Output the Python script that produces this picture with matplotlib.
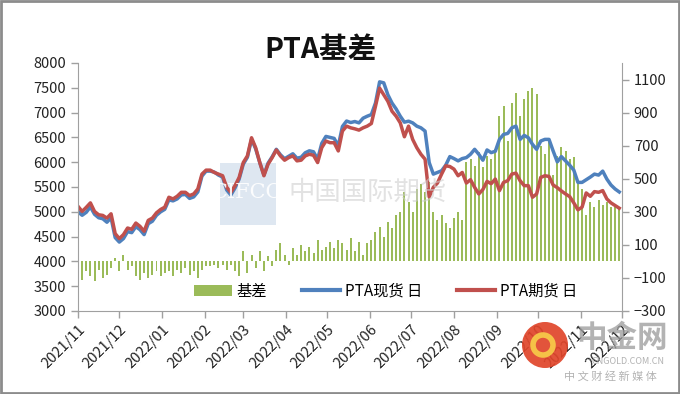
import matplotlib
matplotlib.use("Agg")
import matplotlib.pyplot as plt
import matplotlib.dates as mdates
from matplotlib.patches import Rectangle, Ellipse
import pandas as pd
import numpy as np

plt.rcParams['font.family'] = ['Noto Sans CJK SC', 'DejaVu Sans']

title = "PTA基差"
series_names = ["基差", "PTA现货 日", "PTA期货 日"]

# sample dates (every 3 calendar days)
dates = pd.date_range("2021-11-01", periods=132, freq="3D")

spot = [
    5000, 4930, 4990, 5100, 4950, 4880, 4860, 4790, 4880, 4480,
    4390, 4460, 4600, 4580, 4700, 4640, 4540, 4760, 4810, 4930,
    5000, 5050, 5240, 5220, 5260, 5340, 5350, 5270, 5300, 5400,
    5720, 5820, 5820, 5800, 5740, 5700, 5440, 5340, 5480, 5660,
    5960, 6100, 6460, 6270, 5990, 5740, 5980, 6110, 6260, 6150,
    6070, 6120, 6170, 6080, 6100, 6190, 6230, 6210, 6060, 6380,
    6520, 6500, 6480, 6330, 6720, 6830, 6800, 6820, 6793, 6887,
    6927, 6960, 7193, 7620, 7600, 7360, 7193, 7073, 6927, 6807,
    6827, 6793, 6727, 6693, 6627, 5993, 5760, 5793, 5827, 5940,
    6113, 6073, 6027, 6073, 6093, 6160, 6260, 6160, 6040, 6247,
    6193, 6220, 6460, 6560, 6580, 6693, 6727, 6460, 6540, 6493,
    6360, 6260, 6427, 6460, 6460, 6227, 6007, 6113, 6027, 5940,
    5840, 5593, 5593, 5647, 5700, 5760, 5740, 5820, 5660, 5540,
    5460, 5400,
]

futures = [
    5110, 5007, 5090, 5180, 5007, 4940, 4927, 4873, 4960, 4560,
    4460, 4540, 4673, 4647, 4773, 4707, 4607, 4827, 4873, 4980,
    5047, 5093, 5293, 5260, 5313, 5393, 5393, 5327, 5360, 5460,
    5760, 5840, 5840, 5793, 5760, 5727, 5493, 5393, 5527, 5693,
    5993, 6127, 6493, 6293, 5993, 5727, 5960, 6093, 6247, 6127,
    6040, 6093, 6127, 6027, 6040, 6127, 6160, 6140, 5993, 6293,
    6427, 6393, 6393, 6227, 6627, 6727, 6693, 6673, 6647, 6693,
    6727, 6780, 7127, 7493, 7360, 7227, 7027, 6927, 6793, 6513,
    6727, 6460, 6293, 6160, 6060, 5300, 5493, 5580, 5760, 5927,
    5913, 5860, 5727, 5793, 5580, 5647, 5493, 5360, 5450, 5613,
    5567, 5660, 5427, 5593, 5627, 5760, 5780, 5627, 5527, 5527,
    5293, 5360, 5693, 5727, 5713, 5540, 5487, 5420, 5360, 5307,
    5180, 5040, 5093, 5380, 5313, 5407, 5393, 5427, 5260, 5180,
    5127, 5073,
]

basis = [
    -70, -110, -60, -90, -120, -50, -100, -80, -40, 20,
    -60, 40, -50, -30, -90, -110, -70, -100, -80, -60,
    -90, -70, -60, -90, -50, -70, -40, -80, -60, -100,
    -50, -30, -30, -20, -40, -20, -50, -20, -60, -90,
    60, -70, 40, -40, 60, -60, 30, -30, 70, 110,
    40, -20, 80, 40, 100, 60, 90, 50, 130, 70,
    90, 120, 80, 130, 110, 70, 140, 60, 120, 40,
    110, 130, 180, 210, 150, 240, 200, 280, 300, 420,
    360, 300, 440, 470, 420, 480, 300, 250, 280, 230,
    200, 260, 300, 250, 600, 620, 580, 660, 570, 640,
    620, 680, 880, 940, 730, 960, 1020, 880, 980, 1030,
    1050, 1010, 700, 650, 720, 520, 640, 690, 670, 620,
    630, 480, 440, 280, 360, 330, 370, 340, 360, 330,
    350, 320,
]

C_BAR = "#9BBB59"
C_SPOT = "#4F81BD"
C_FUT = "#C0504D"
C_AX = "#A0A0A0"

fig = plt.figure(figsize=(6.8, 3.94), dpi=100)
ax = fig.add_axes([78/680, 1-311/394, 544/680, 248/394])
ax2 = ax.twinx()

# bars on secondary axis, drawn beneath the lines
bars = ax2.bar(dates, basis, width=1.45, color=C_BAR, edgecolor="none", linewidth=0,
               antialiased=False, label=series_names[0])
ax.set_zorder(ax2.get_zorder() + 1)
ax.patch.set_visible(False)

l1, = ax.plot(dates, spot, color=C_SPOT, lw=2.5, solid_joinstyle="round", label=series_names[1])
l2, = ax.plot(dates, futures, color=C_FUT, lw=2.5, solid_joinstyle="round", label=series_names[2])

ax.set_ylim(3000, 8000)
ax.set_yticks(np.arange(3000, 8001, 500))
ax2.set_ylim(-300, 1200)
ax2.set_yticks(np.arange(-300, 1101, 200))

ax.set_xlim(pd.Timestamp("2021-11-01"), pd.Timestamp("2022-12-01"))
ax.xaxis.set_major_locator(mdates.MonthLocator())
ax.xaxis.set_major_formatter(mdates.DateFormatter("%Y/%m"))

for a in (ax, ax2):
    for s in a.spines.values():
        s.set_color(C_AX)
    a.spines["top"].set_visible(False)
    a.tick_params(colors=C_AX, labelcolor="#222222", labelsize=10.5, length=5, width=1)
ax.spines["right"].set_visible(False)
ax2.spines["left"].set_visible(False)
ax2.spines["bottom"].set_visible(False)

for lbl in ax.get_xticklabels():
    lbl.set_rotation(45)
    lbl.set_ha("right")
    lbl.set_rotation_mode("anchor")
    lbl.set_fontsize(10.5)

leg = ax.legend([bars, l1, l2], series_names, loc="center", bbox_to_anchor=(0.565, 0.08),
                ncol=3, frameon=False, fontsize=11, handlelength=2.5, columnspacing=2.3,
                handletextpad=0.3)
for h in leg.legend_handles:
    try:
        h.set_linewidth(3)
    except Exception:
        pass

fig.text(320/680, 1-50/394, title, ha="center", va="center", fontsize=20.5, fontweight="bold",
         color="#111111")

# watermarks
fig.patches.append(Rectangle((220/680, 1-225/394), 56/680, 62/394, transform=fig.transFigure,
                             facecolor="#C9D7E8", alpha=0.6, edgecolor="none", zorder=0))
fig.text(248/680, 1-192/394, "CIFCO", ha="center", va="center", fontsize=15, color="white",
         family="DejaVu Serif", alpha=0.9)
fig.text(368/680, 1-192/394, "中国国际期货", ha="center", va="center", fontsize=19,
         color="#CFCFCF", alpha=0.6)
fig.patches.append(Ellipse((545/680, 1-345/394), 46/680, 46/394, transform=fig.transFigure,
                           facecolor="#E0452A", edgecolor="none", alpha=0.92, zorder=5))
fig.patches.append(Ellipse((543/680, 1-345/394), 20/680, 20/394, transform=fig.transFigure,
                           facecolor="none", edgecolor="#F7C948", lw=4, alpha=0.95, zorder=6))
fig.text(622/680, 1-338/394, "中金网", ha="center", va="center", fontsize=22,
         color="#9A9A9A", alpha=0.75, fontweight="bold", zorder=6)
fig.text(628/680, 1-362/394, "CNGOLD.COM.CN", ha="center", va="center", fontsize=6.5,
         color="#A0A0A0", alpha=0.8, zorder=6)
fig.text(610/680, 1-376/394, "中 文 财 经 新 媒 体", ha="center", va="center", fontsize=8,
         color="#A0A0A0", alpha=0.8, zorder=6)

fig.patches.append(Rectangle((0.001, 0.002), 0.997, 0.995, transform=fig.transFigure,
                             facecolor="none", edgecolor="#8C8C8C", lw=2, zorder=10))

fig.savefig("out.png", dpi=100)
